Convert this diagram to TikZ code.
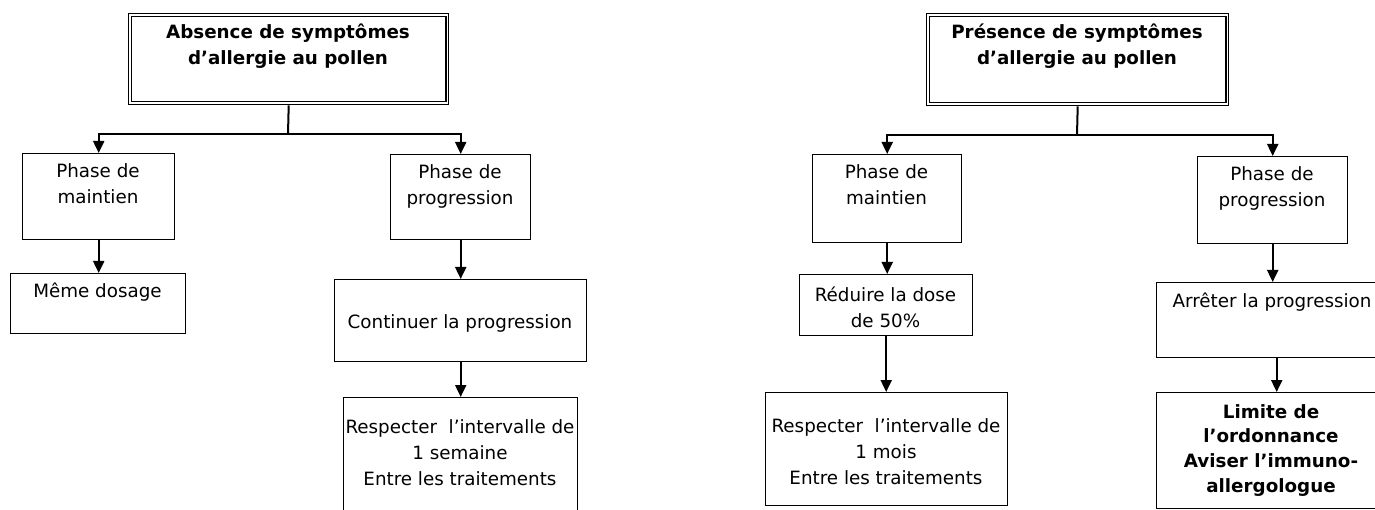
\documentclass[tikz,border=0pt]{standalone}
\usepackage{fontspec}
\setmainfont{DejaVu Sans}
\usetikzlibrary{arrows.meta}
\begin{document}
\begin{tikzpicture}[x=1pt,y=-1pt,
  box/.style={draw, line width=1.4pt, inner sep=0pt, anchor=north west},
  inner/.style={line width=1.2pt},
  txt/.style={inner sep=0pt, align=center, anchor=north, font=\fontsize{18.3}{26}\selectfont},
  btxt/.style={txt, font=\fontsize{18.3}{26}\selectfont\bfseries},
  ltxt/.style={txt, font=\fontsize{18.3}{24.7}\selectfont\bfseries},
  conn/.style={line width=2pt},
  arr/.style={conn, -{Triangle[width=11pt,length=12pt]}}]
\useasboundingbox (0,0) rectangle (1375,510);
\clip (0,0) rectangle (1375,510);

% ---------- left tree ----------
\node[box, minimum width=320pt, minimum height=91pt] (t1) at (128,13) {};
\draw[inner] ([shift={(3.5,3.5)}]t1.north west) rectangle ([shift={(-3.5,-3.5)}]t1.south east);
\node[btxt] (t1t) at (288,19.8) {\strut Absence de symptômes\\d’allergie au pollen};

\node[box, minimum width=152pt, minimum height=86pt] (m1) at (22,153) {};
\node[txt] (m1t) at (98,158.8) {\strut Phase de\\maintien};

\node[box, minimum width=175pt, minimum height=60pt] (d1) at (10,273) {};
\node[txt] (d1t) at (97.5,278.8) {\strut Même dosage};

\node[box, minimum width=140pt, minimum height=85pt] (p1) at (390,154) {};
\node[txt] (p1t) at (460,159.8) {\strut Phase de\\progression};

\node[box, minimum width=252pt, minimum height=82pt] (c1) at (334,279) {};
\node[txt] (c1t) at (460,309.8) {\strut Continuer la progression};

\node[box, minimum width=234pt, minimum height=130pt] (r1) at (343,397) {};
\node[txt] (r1t) at (460,414.8) {\strut Respecter~~l’intervalle de\\1 semaine\\Entre les traitements};

\coordinate (lj) at (288,134);
\draw[conn] (t1.south) -- (lj);
\draw[arr] (lj) -| (m1.north);
\draw[arr] (lj) -| (p1.north);
\draw[arr] (m1.south) -- (m1.south |- d1.north);
\draw[arr] (p1.south) -- (p1.south |- c1.north);
\draw[arr] (c1.south) -- (c1.south |- r1.north);

% ---------- right tree ----------
\node[box, minimum width=302pt, minimum height=92pt] (t2) at (926,13) {};
\draw[inner] ([shift={(3.5,3.5)}]t2.north west) rectangle ([shift={(-3.5,-3.5)}]t2.south east);
\node[btxt] (t2t) at (1077,19.8) {\strut Présence de symptômes\\d’allergie au pollen};

\node[box, minimum width=149pt, minimum height=88pt] (m2) at (812,154) {};
\node[txt] (m2t) at (886.5,159.8) {\strut Phase de\\maintien};

\node[box, minimum width=173pt, minimum height=61pt] (d2) at (799,274) {};
\node[txt] (d2t) at (885.5,282.8) {\strut Réduire la dose\\de 50\%};

\node[box, minimum width=242pt, minimum height=113pt] (r2) at (765,392) {};
\node[txt] (r2t) at (886,413.8) {\strut Respecter~~l’intervalle de\\1 mois\\Entre les traitements};

\node[box, minimum width=150pt, minimum height=87pt] (p2) at (1197,156) {};
\node[txt] (p2t) at (1272,161.8) {\strut Phase de\\progression};

\node[box, minimum width=240pt, minimum height=75pt] (a2) at (1156,282) {};
\node[txt] (a2t) at (1272,288.8) {\strut Arrêter la progression};

\node[box, minimum width=240pt, minimum height=116pt] (l2) at (1156,392) {};
\node[ltxt] (l2t) at (1271,400.7) {\strut Limite de\\l’ordonnance\\Aviser l’immuno-\\allergologue};

\coordinate (rj) at (1077,135);
\draw[conn] (t2.south) -- (rj);
\draw[arr] (rj) -| (m2.north);
\draw[arr] (rj) -| (p2.north);
\draw[arr] (m2.south) -- (m2.south |- d2.north);
\draw[arr] (d2.south) -- (d2.south |- r2.north);
\draw[arr] (p2.south) -- (p2.south |- a2.north);
\draw[arr] (a2.south) -- (a2.south |- l2.north);
\end{tikzpicture}
\end{document}
